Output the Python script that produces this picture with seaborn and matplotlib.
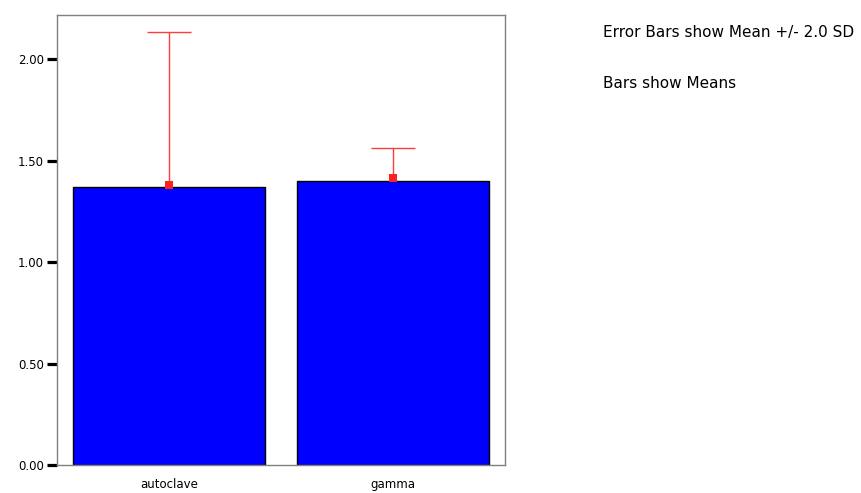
import numpy as np
import pandas as pd
import matplotlib
matplotlib.use("Agg")
import matplotlib.pyplot as plt
import seaborn as sns

# values
groups = ["autoclave", "gamma"]
means = [1.369, 1.400]
sds = [0.381, 0.0815]
sd_mult = 2.0

df = pd.DataFrame({"group": groups, "mean": means, "sd": sds})
df["upper"] = df["mean"] + sd_mult * df["sd"]

sns.set_style("white")
plt.rcParams["font.family"] = ["DejaVu Sans"]
plt.rcParams["text.color"] = "black"
plt.rcParams["xtick.color"] = "black"
plt.rcParams["ytick.color"] = "black"

fig = plt.figure(figsize=(8.62, 4.93), dpi=100)
ax = fig.add_axes([57 / 862, 28 / 493, 448 / 862, 450 / 493])

sns.barplot(data=df, x="group", y="mean", color="#0000ff", saturation=1,
            edgecolor="black", linewidth=1, width=0.855, errorbar=None,
            ax=ax, zorder=2)

# upper half of the error bars (mean -> mean + 2 SD) with a cap on top
xpos = np.arange(len(groups))
ax.vlines(xpos, df["mean"], df["upper"], color="#ff3b3b", lw=1, zorder=3)
ax.hlines(df["upper"], xpos - 0.1, xpos + 0.1, color="#ff3b3b", lw=1,
          zorder=3)
# mean markers
ax.plot(xpos, df["mean"] + 0.012, ls="none", marker="s", ms=5.5,
        color="#ff2020", markeredgewidth=0, zorder=4)

ax.set_xlim(-0.5, 1.5)
ax.set_ylim(0, 2.217)
ax.set_yticks([0, 0.5, 1.0, 1.5, 2.0])
ax.set_yticklabels(["0.00", "0.50", "1.00", "1.50", "2.00"])
ax.set_xlabel("")
ax.set_ylabel("")

ax.tick_params(axis="y", length=7.5, width=2.3, color="black",
               labelsize=8.5, pad=2, left=True)
ax.tick_params(axis="x", length=0, labelsize=8.5, pad=9.5)
for s in ax.spines.values():
    s.set_color("#808080")
    s.set_linewidth(1)
    s.set_visible(True)

fig.text(603 / 862, 1 - 33 / 493, "Error Bars show Mean +/- 2.0 SD",
         fontsize=11, va="center", ha="left")
fig.text(603 / 862, 1 - 84 / 493, "Bars show Means",
         fontsize=11, va="center", ha="left")

fig.savefig("out.png", dpi=100)
